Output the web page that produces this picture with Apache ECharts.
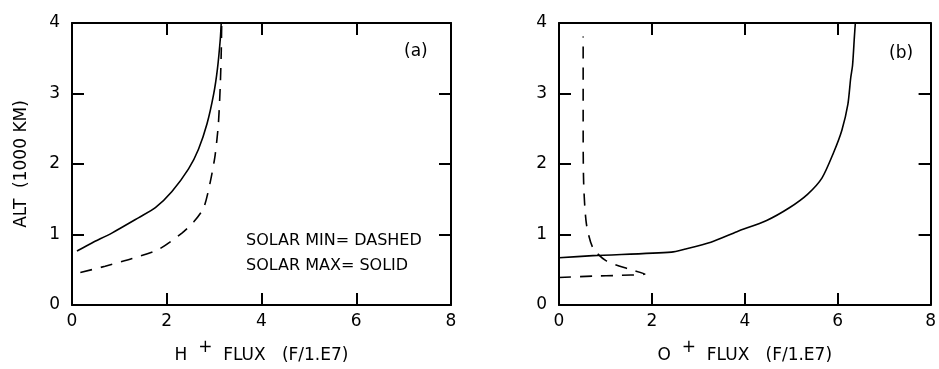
<!DOCTYPE html>
<html><head><meta charset="utf-8">
<script src="https://cdn.jsdelivr.net/npm/echarts@6/dist/echarts.min.js"></script>
<style>html,body{margin:0;padding:0;background:#fff}#c{width:939px;height:369px}</style>
</head><body><div id="c"></div>
<script>
// Panel (a): H+ flux
const hMaxFlux = [0.105, 0.42, 0.84, 1.41, 1.76, 2.11, 2.46, 2.67, 2.85, 2.99, 3.07, 3.13, 3.15];
const hMaxAlt  = [0.765, 0.88, 1.02, 1.24, 1.38, 1.61, 1.93, 2.21, 2.57, 2.99, 3.35, 3.77, 4.0];
const hMinFlux = [0.176, 0.70, 1.27, 1.83, 2.32, 2.57, 2.78, 2.92, 3.02, 3.09, 3.13, 3.15, 3.16];
const hMinAlt  = [0.46, 0.55, 0.66, 0.79, 1.02, 1.18, 1.38, 1.75, 2.12, 2.57, 3.12, 3.58, 4.0];
// Panel (b): O+ flux
const oMaxFlux = [0.0, 0.73, 2.42, 2.70, 3.27, 3.83, 4.47, 4.96, 5.35, 5.66, 5.91, 6.09, 6.22, 6.28, 6.32, 6.36, 6.38];
const oMaxAlt  = [0.67, 0.70, 0.75, 0.79, 0.89, 1.04, 1.20, 1.38, 1.57, 1.80, 2.16, 2.48, 2.85, 3.22, 3.40, 3.81, 4.0];
const oMinFlux = [0.0, 0.73, 1.29, 1.85, 1.50, 1.01, 0.73, 0.59, 0.53, 0.52, 0.52];
const oMinAlt  = [0.39, 0.41, 0.42, 0.44, 0.51, 0.63, 0.81, 1.15, 1.75, 2.67, 3.81];
const xTicks = [0, 2, 4, 6, 8];
const yTicks = [0, 1, 2, 3, 4];
const labelsText = {a: '(a)', b: '(b)', min: 'SOLAR MIN= DASHED', max: 'SOLAR MAX= SOLID'};

const FONT = 'DejaVu Sans';
const zip = (xs, ys) => xs.map((x, i) => [x, ys[i]]);

function xAx(grid, pos, sup) {
  const main = pos === 'bottom';
  return {
    type: 'value', gridIndex: grid, position: pos, min: xTicks[0], max: xTicks[xTicks.length-1], interval: 2,
    axisLine: {show: true, onZero: false, lineStyle: {color: '#000', width: 2}},
    axisTick: {show: true, inside: true, length: 12, lineStyle: {color: '#000', width: 2},
      customValues: xTicks.slice(1, -1)},
    axisLabel: {show: main, color: '#000', fontFamily: FONT, fontSize: 17, margin: 8,
      customValues: xTicks},
    splitLine: {show: false},
    name: main ? '{n|' + sup + '  }{s|+}{n|  FLUX   (F/1.E7)}' : '',
    nameLocation: 'middle', nameGap: 34,
    nameTextStyle: {rich: {
      n: {fontFamily: FONT, fontSize: 17, color: '#000', padding: [8, 0, 0, 0]},
      s: {fontFamily: FONT, fontSize: 17, color: '#000', padding: [0, 0, 8, 0]}
    }}
  };
}
function yAx(grid, pos, name) {
  const main = pos === 'left';
  return {
    type: 'value', gridIndex: grid, position: pos, min: yTicks[0], max: yTicks[yTicks.length-1], interval: 1,
    axisLine: {show: true, onZero: false, lineStyle: {color: '#000', width: 2}},
    axisTick: {show: true, inside: true, length: 12, lineStyle: {color: '#000', width: 2},
      customValues: yTicks.slice(1, -1)},
    axisLabel: {show: main, color: '#000', fontFamily: FONT, fontSize: 17, margin: 12,
      customValues: yTicks},
    splitLine: {show: false},
    name: main ? name : '', nameLocation: 'middle', nameGap: 42, nameRotate: 90,
    nameTextStyle: {fontFamily: FONT, fontSize: 17, color: '#000'}
  };
}
function ser(xi, yi, data, dashed) {
  return {type: 'line', xAxisIndex: xi, yAxisIndex: yi, data: data, showSymbol: false, smooth: 0.25,
    lineStyle: {color: '#000', width: 1.6, type: dashed ? [12, 9] : 'solid'}, silent: true};
}

const chart = echarts.init(document.getElementById('c'), null, {renderer: 'canvas'});
chart.setOption({
  backgroundColor: '#fff',
  animation: false,
  grid: [
    {left: 72, top: 23, width: 379, height: 291, containLabel: false},
    {left: 559, top: 23, width: 378, height: 291, containLabel: false}
  ],
  xAxis: [xAx(0, 'bottom', 'H'), xAx(0, 'top'), xAx(1, 'bottom', 'O'), xAx(1, 'top')],
  yAxis: [yAx(0, 'left', 'ALT  (1000 KM)'), yAx(0, 'right'), yAx(1, 'left', ''), yAx(1, 'right')],
  series: [
    ser(0, 0, zip(hMaxFlux, hMaxAlt), false),
    ser(0, 0, zip(hMinFlux, hMinAlt), true),
    ser(2, 2, zip(oMaxFlux, oMaxAlt), false),
    ser(2, 2, zip(oMinFlux, oMinAlt), true)
  ],
  graphic: [
    {type: 'text', left: 404, top: 43, style: {text: labelsText.a, fontFamily: FONT, fontSize: 17, fill: '#000'}},
    {type: 'text', left: 889, top: 45, style: {text: labelsText.b, fontFamily: FONT, fontSize: 17, fill: '#000'}},
    {type: 'text', left: 246, top: 233, style: {text: labelsText.min, fontFamily: FONT, fontSize: 16, fill: '#000'}},
    {type: 'text', left: 246, top: 258, style: {text: labelsText.max, fontFamily: FONT, fontSize: 16, fill: '#000'}}
  ]
});
</script></body></html>
